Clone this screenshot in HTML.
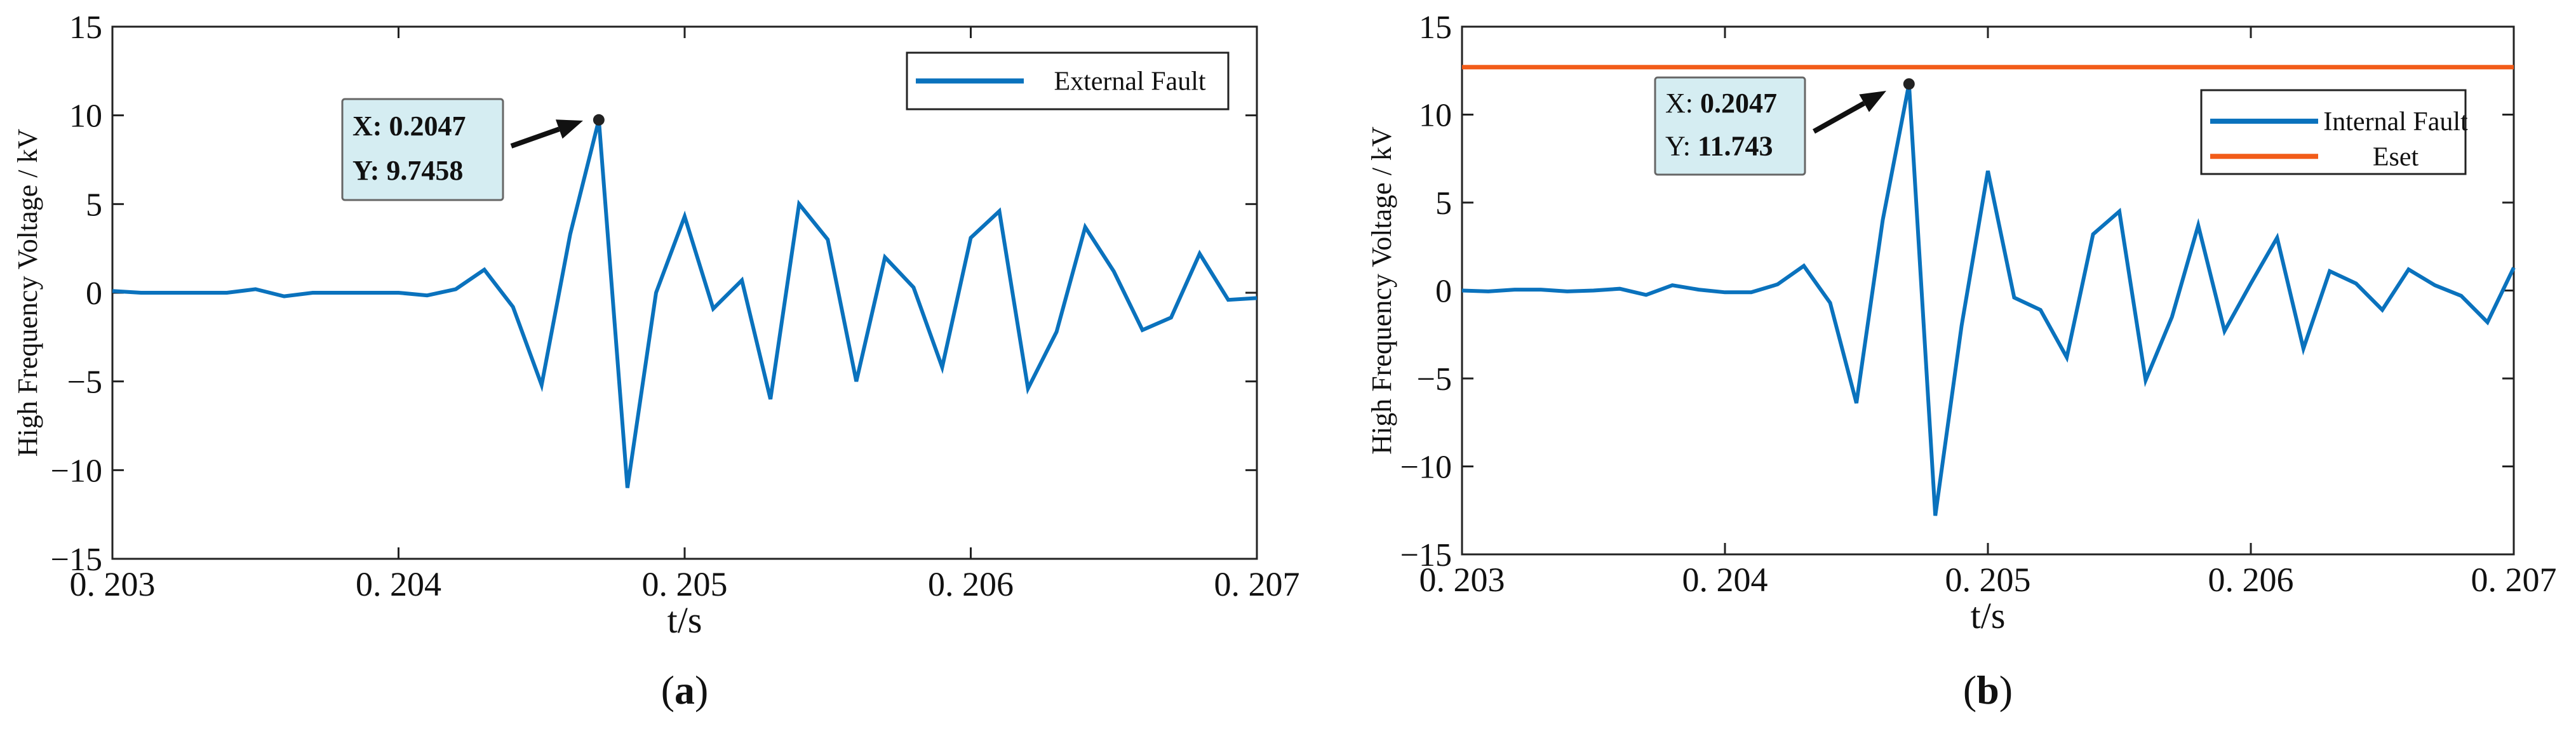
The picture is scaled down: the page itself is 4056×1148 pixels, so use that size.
<!DOCTYPE html>
<html><head><meta charset="utf-8">
<style>
html,body{margin:0;padding:0;background:#fff;}
svg{display:block;font-family:"Liberation Serif",serif;}
</style></head>
<body>
<svg id="chart" width="4056" height="1148" viewBox="0 0 4056 1148" xmlns="http://www.w3.org/2000/svg"></svg>
<script>
const times = [];
for (let i = 0; i <= 40; i++) times.push(0.203 + i * 0.0001);
const externalFault = [0.1,0,0,0,0,0.2,-0.2,0,0,0,0,-0.15,0.2,1.3,-0.8,-5.2,3.3,9.7458,-11,0,4.3,-0.9,0.7,-6.0,5.0,3.0,-5.0,2.0,0.3,-4.2,3.1,4.6,-5.4,-2.2,3.7,1.2,-2.1,-1.4,2.2,-0.4,-0.3];
const internalFault = [0,-0.05,0.05,0.05,-0.05,0,0.1,-0.25,0.3,0.05,-0.1,-0.1,0.35,1.4,-0.7,-6.4,4.0,11.743,-12.8,-2.0,6.8,-0.4,-1.1,-3.8,3.2,4.5,-5.1,-1.5,3.7,-2.3,0.4,3.0,-3.3,1.1,0.4,-1.1,1.2,0.3,-0.3,-1.8,1.3];
const esetValue = [12.7];
const xTicks = [0.203,0.204,0.205,0.206,0.207];
const xTickLabels = ["0. 203","0. 204","0. 205","0. 206","0. 207"];
const yTicks = [-15,-10,-5,0,5,10,15];
const yTickLabels = ["\u221215","\u221210","\u22125","0","5","10","15"];

const NS = "http://www.w3.org/2000/svg";
const svg = document.getElementById("chart");
function mk(tag, attrs, parent, text){
  const e = document.createElementNS(NS, tag);
  for (const k in attrs) e.setAttribute(k, attrs[k]);
  if (text !== undefined) e.textContent = text;
  (parent || svg).appendChild(e);
  return e;
}

function panel(cfg){
  const g = mk("g", {});
  
  
  const L=cfg.L,R=cfg.R,T=cfg.T,B=cfg.B;
  const xs = v => L + (v - 0.203) / 0.004 * (R - L);
  const ys = v => B - (v + 15) / 30 * (B - T);
  xTicks.forEach((t,i)=>{
    const x = xs(t);
    mk("line",{x1:x,y1:B,x2:x,y2:B-18,stroke:"#222","stroke-width":3},g);
    mk("line",{x1:x,y1:T,x2:x,y2:T+18,stroke:"#222","stroke-width":3},g);
    const lb = mk("text",{x:x,y:B+58,"font-size":54,"text-anchor":"middle",fill:"#111"},g,xTickLabels[i]);
    
    
  });
  yTicks.forEach((t,i)=>{
    const y = ys(t);
    mk("line",{x1:L,y1:y,x2:L+18,y2:y,stroke:"#222","stroke-width":3},g);
    mk("line",{x1:R,y1:y,x2:R-18,y2:y,stroke:"#222","stroke-width":3},g);
    const lb = mk("text",{x:L-16,y:y+18,"font-size":52,"text-anchor":"end",fill:"#111"},g,yTickLabels[i]);
    
    
  });
  const frame = mk("rect",{x:L,y:T,width:R-L,height:B-T,fill:"none",stroke:"#222","stroke-width":3},g);
  
  
  if (cfg.eset){
    const ey = ys(esetValue[0]);
    const el = mk("line",{x1:L,y1:ey,x2:R,y2:ey,stroke:"#F25C19","stroke-width":7},g);
    
    
  }
  const pts = cfg.data.map((v,i)=>xs(times[i]).toFixed(1)+","+ys(v).toFixed(1)).join(" ");
  const pl = mk("polyline",{points:pts,fill:"none",stroke:"#0A72BD","stroke-width":6,"stroke-linejoin":"miter"},g);
  
  
  const pk = cfg.data[17];
  const mx = xs(times[17]), my = ys(pk);
  const mkr = mk("circle",{cx:mx,cy:my,r:9,fill:"#222"},g);
  
  
  const bx = cfg.box;
  const box = mk("rect",{x:bx[0],y:bx[1],width:bx[2],height:bx[3],fill:"#D5EDF2",stroke:"#666","stroke-width":3,rx:4},g);
  
  
  const t1 = mk("text",{x:bx[0]+16,y:bx[1]+bx[3]*0.36,"font-size":44,fill:"#111"},g);
  
  
  mk("tspan",{"font-weight":cfg.boldLabel?"bold":"normal"},t1,"X: ");
  mk("tspan",{"font-weight":"bold"},t1,times[17].toFixed(4));
  const t2 = mk("text",{x:bx[0]+16,y:bx[1]+bx[3]*0.8,"font-size":44,fill:"#111"},g);
  
  
  mk("tspan",{"font-weight":cfg.boldLabel?"bold":"normal"},t2,"Y: ");
  mk("tspan",{"font-weight":"bold"},t2,String(pk));
  const a = cfg.arrow;
  const ang = Math.atan2(a[3]-a[1], a[2]-a[0]);
  const hl = 40, hw = 16;
  const bxp = a[2]-hl*Math.cos(ang), byp = a[3]-hl*Math.sin(ang);
  const arr = mk("g",{},g);
  
  
  mk("line",{x1:a[0],y1:a[1],x2:bxp,y2:byp,stroke:"#111","stroke-width":8},arr);
  mk("polygon",{points:`${a[2]},${a[3]} ${bxp+hw*Math.sin(ang)},${byp-hw*Math.cos(ang)} ${bxp-hw*Math.sin(ang)},${byp+hw*Math.cos(ang)}`,fill:"#111"},arr);
  const lg = cfg.legend;
  const leg = mk("g",{},g);
  
  
  mk("rect",{x:lg[0],y:lg[1],width:lg[2],height:lg[3],fill:"#fff",stroke:"#222","stroke-width":3},leg);
  cfg.entries.forEach((en,i)=>{
    const yy = lg[1] + (cfg.entries.length===1 ? lg[3]/2 : lg[3]*(0.37+0.42*i));
    const ent = mk("g",{},leg);
    
    
    mk("line",{x1:lg[0]+14,y1:yy,x2:lg[0]+184,y2:yy,stroke:en.color,"stroke-width":8},ent);
    mk("text",{x:lg[0]+(lg[2]+184)/2+6,y:yy+14,"font-size":42,"text-anchor":"middle",fill:"#111"},ent,en.label);
  });
  const cy = (T+B)/2;
  const yl = mk("text",{x:0,y:0,"font-size":44,"text-anchor":"middle",fill:"#111",transform:`translate(${cfg.ylabX},${cy}) rotate(-90)`},g,"High Frequency Voltage / kV");
  
  
  const xl = mk("text",{x:(L+R)/2,y:B+116,"font-size":58,"text-anchor":"middle",fill:"#111"},g,"t/s");
  
  
  const cap = mk("text",{x:(L+R)/2,y:1108,"font-size":64,"text-anchor":"middle",fill:"#111"},g);
  
  
  mk("tspan",{},cap,"(");
  mk("tspan",{"font-weight":"bold"},cap,cfg.cap);
  mk("tspan",{},cap,")");
}

panel({name:"panel-a",L:177,R:1979,T:42,B:880,data:externalFault,seriesName:"external-fault-line",
  box:[539,156,253,159],boldLabel:true,arrow:[805,230,918,190],
  legend:[1428,83,506,89],entries:[{label:"External Fault",color:"#0A72BD"}],ylabX:58,cap:"a"});
panel({name:"panel-b",L:2302,R:3958,T:42,B:873,data:internalFault,seriesName:"internal-fault-line",eset:true,
  box:[2606,122,236,153],boldLabel:false,arrow:[2856,207,2970,143],
  legend:[3466,142,416,132],entries:[{label:"Internal Fault",color:"#0A72BD"},{label:"Eset",color:"#F25C19"}],ylabX:2190,cap:"b"});
</script>
</body></html>
